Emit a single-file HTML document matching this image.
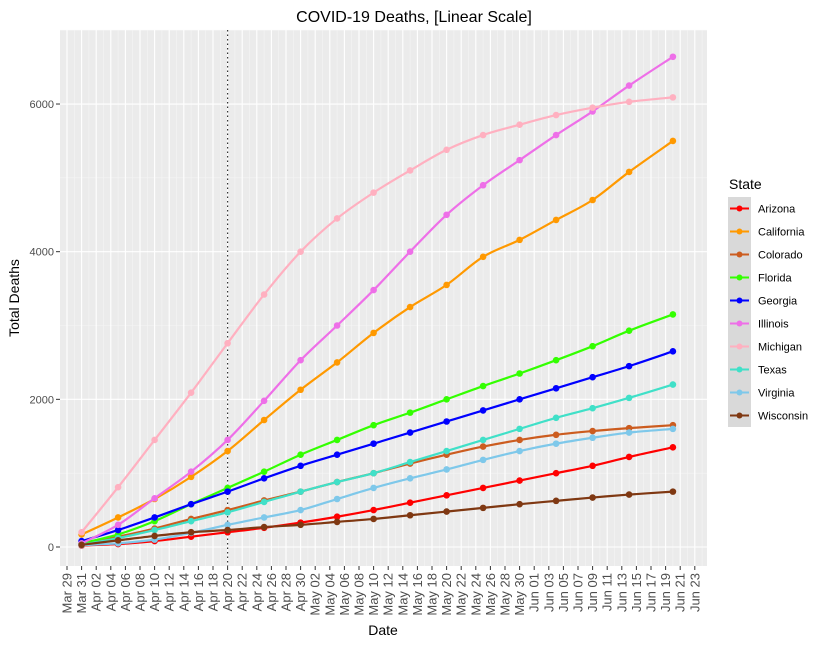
<!DOCTYPE html>
<html><head><meta charset="utf-8"><style>
body{margin:0;background:#fff;font-family:"Liberation Sans",Arial,sans-serif}
svg text{font-family:"Liberation Sans",Arial,sans-serif}
</style></head><body>
<svg id="chart" width="827" height="643" viewBox="0 0 827 643" xmlns="http://www.w3.org/2000/svg">
<rect x="0" y="0" width="827" height="643" fill="#fff"/>
<text x="414" y="22" text-anchor="middle" font-size="16" fill="#000">COVID-19 Deaths, [Linear Scale]</text>
<rect x="60" y="30" width="647" height="536" fill="#ebebeb"/>
<g id="grid"></g>
<g id="axes"></g>
<g id="series"></g>
<text x="383" y="635" text-anchor="middle" font-size="14" fill="#000">Date</text>
<text transform="translate(19,298) rotate(-90)" text-anchor="middle" font-size="14" fill="#000">Total Deaths</text>
<g id="legend"></g>
</svg>
<script>
const states=["Arizona","California","Colorado","Florida","Georgia","Illinois","Michigan","Texas","Virginia","Wisconsin"];
const colors=["#ff0000","#ff9900","#cc5c1f","#33ff00","#0000ff","#ee6fe8","#ffb0c0","#40e0c8","#7ec8ea","#7f3812"];
const days=[0,5,10,15,20,25,30,35,40,45,50,55,60,65,70,75,81]; // days since Mar 31
const arizona=[20,40,80,140,200,260,330,410,500,600,700,800,900,1000,1100,1220,1350];
const california=[170,400,650,950,1300,1720,2130,2500,2900,3250,3550,3930,4160,4430,4700,5080,5500];
const colorado=[50,140,250,380,500,630,750,880,1000,1130,1250,1360,1450,1520,1570,1610,1650];
const florida=[50,170,350,580,800,1020,1250,1450,1650,1820,2000,2180,2350,2530,2720,2930,3150];
const georgia=[80,230,400,580,750,930,1100,1250,1400,1550,1700,1850,2000,2150,2300,2450,2650];
const illinois=[50,300,660,1020,1450,1980,2530,3000,3480,4000,4500,4900,5240,5580,5900,6250,6640];
const michigan=[200,810,1450,2090,2760,3420,4000,4450,4800,5100,5380,5580,5720,5850,5950,6030,6090];
const texas=[30,120,230,350,470,610,750,880,1000,1150,1300,1450,1600,1750,1880,2020,2200];
const virginia=[25,50,100,190,300,400,500,650,800,930,1050,1180,1300,1400,1480,1550,1600];
const wisconsin=[30,90,150,200,230,270,300,340,380,430,480,530,580,625,670,710,750];
const seriesVals=[arizona,california,colorado,florida,georgia,illinois,michigan,texas,virginia,wisconsin];
const yTicks=[0,2000,4000,6000];
const tickLabels=["Mar 29","Mar 31","Apr 02","Apr 04","Apr 06","Apr 08","Apr 10","Apr 12","Apr 14","Apr 16","Apr 18","Apr 20","Apr 22","Apr 24","Apr 26","Apr 28","Apr 30","May 02","May 04","May 06","May 08","May 10","May 12","May 14","May 16","May 18","May 20","May 22","May 24","May 26","May 28","May 30","Jun 01","Jun 03","Jun 05","Jun 07","Jun 09","Jun 11","Jun 13","Jun 15","Jun 17","Jun 19","Jun 21","Jun 23"];
const vlineDay=20;

const NS="http://www.w3.org/2000/svg";
const X=d=>67+(d+2)*7.3;
const Y=v=>547-v*0.07383;
function mk(tag,attrs,parent){const e=document.createElementNS(NS,tag);for(const k in attrs)e.setAttribute(k,attrs[k]);parent.appendChild(e);return e;}
const grid=document.getElementById('grid'),axes=document.getElementById('axes'),ser=document.getElementById('series'),leg=document.getElementById('legend');

for(let v=-1000;v<=7000;v+=2000){const y=Y(v);if(y<30||y>566)continue;
 const l=mk('line',{x1:60,x2:707,y1:y,y2:y,stroke:'#f5f5f5','stroke-width':0.6},grid);
 
 }
for(let d=-2;d<=85;d++){const x=X(d);const major=(d%2===0);
 const l=mk('line',{x1:x,x2:x,y1:30,y2:566,stroke:major?'#fff':'#f5f5f5','stroke-width':major?1.1:0.6},grid);
 
 }
yTicks.forEach(v=>{const y=Y(v);
 const l=mk('line',{x1:60,x2:707,y1:y,y2:y,stroke:'#fff','stroke-width':1.1},grid);
 
 
 const t=mk('line',{x1:56,x2:60,y1:y,y2:y,stroke:'#333','stroke-width':1},axes);
 
 
 const tx=mk('text',{x:54,y:y+4,'text-anchor':'end','font-size':11,fill:'#4d4d4d'},axes);tx.textContent=String(v);
 
 });
tickLabels.forEach((lab,i)=>{const x=X(-2+i*2);
 const t=mk('line',{x1:x,x2:x,y1:566,y2:570,stroke:'#333','stroke-width':1},axes);
 
 
 const tx=mk('text',{transform:`translate(${x+4.5},573) rotate(-90)`,'text-anchor':'end','font-size':13,fill:'#4d4d4d'},axes);tx.textContent=lab;
 
 });
const vl=mk('line',{x1:X(vlineDay),x2:X(vlineDay),y1:30,y2:566,stroke:'#333','stroke-width':1.2,'stroke-dasharray':'1.5,3'},grid);



function smoothPath(pts){let d=`M${pts[0][0]},${pts[0][1]}`;
 for(let i=0;i<pts.length-1;i++){const p0=pts[i-1]||pts[i],p1=pts[i],p2=pts[i+1],p3=pts[i+2]||p2;
  d+=` C${p1[0]+(p2[0]-p0[0])/6},${p1[1]+(p2[1]-p0[1])/6} ${p2[0]-(p3[0]-p1[0])/6},${p2[1]-(p3[1]-p1[1])/6} ${p2[0]},${p2[1]}`;}
 return d;}
states.forEach((s,si)=>{const g=mk('g',{},ser);
 
 
 const pts=days.map((d,i)=>[X(d),Y(seriesVals[si][i])]);
 pts.forEach(p=>{const c=mk('circle',{cx:p[0],cy:p[1],r:3.3,fill:colors[si]},g);
  
  });
 const path=mk('path',{d:smoothPath(pts),fill:'none',stroke:colors[si],'stroke-width':2.2},g);
 
 });

const lt=mk('text',{x:729,y:189,'font-size':14,fill:'#000'},leg);lt.textContent='State';


states.forEach((s,i)=>{const y=197+i*23;const g=mk('g',{},leg);
 
 
 mk('rect',{x:728,y:y,width:23,height:23,fill:'#d9d9d9'},g);
 mk('line',{x1:730,x2:749,y1:y+11.5,y2:y+11.5,stroke:colors[i],'stroke-width':2},g);
 mk('circle',{cx:739.5,cy:y+11.5,r:3,fill:colors[i]},g);
 const t=mk('text',{x:758,y:y+15.5,'font-size':11,fill:'#000'},g);t.textContent=s;});
</script>
</body></html>
